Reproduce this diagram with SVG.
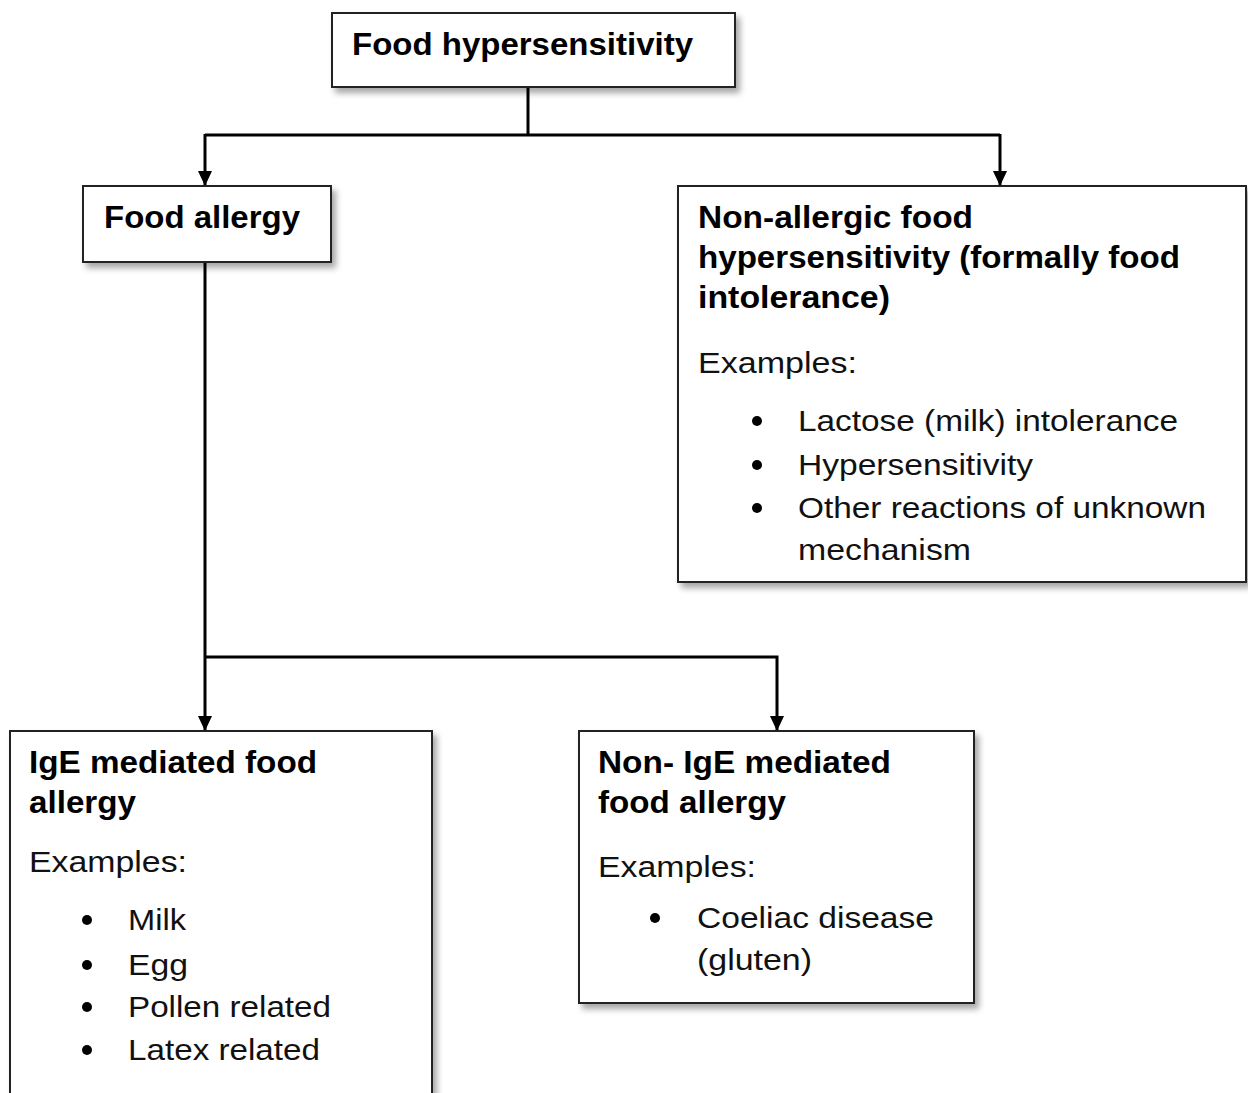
<svg xmlns="http://www.w3.org/2000/svg" width="1248" height="1093" viewBox="0 0 1248 1093">
<style>
.box{fill:#fff;stroke:#222;stroke-width:2;filter:url(#sh)}
.b{font-family:"Liberation Sans",Arial,sans-serif;font-weight:bold;font-size:31px;fill:#000}
.r{font-family:"Liberation Sans",Arial,sans-serif;font-size:30px;fill:#111}
.c{fill:none;stroke:#000;stroke-width:3}
.dot{fill:#000}
</style>
<defs>
<filter id="sh" x="-10%" y="-10%" width="130%" height="130%">
<feDropShadow dx="4" dy="5" stdDeviation="3" flood-color="#000" flood-opacity="0.35"/>
</filter>
<marker id="ar" markerWidth="15" markerHeight="14" refX="14" refY="7" orient="auto" markerUnits="userSpaceOnUse" viewBox="0 0 15 14">
<path d="M0,0 L15,7 L0,14 Z" fill="#000"/>
</marker>
</defs>
<g id="connectors">
<path class="c" d="M528,87 V135"/>
<path class="c" d="M205,135 H1000"/>
<path class="c" d="M205,134 V185" marker-end="url(#ar)"/>
<path class="c" d="M1000,134 V185" marker-end="url(#ar)"/>
<path class="c" d="M205,262 V730" marker-end="url(#ar)"/>
<path class="c" d="M204,657 H777 V730" marker-end="url(#ar)"/>
</g>
<g id="food-hypersensitivity">
<rect class="box" x="332" y="13" width="403" height="74"/>
<text class="b" x="352" y="55" textLength="341" lengthAdjust="spacingAndGlyphs">Food hypersensitivity</text>
</g>
<g id="food-allergy">
<rect class="box" x="83" y="186" width="248" height="76"/>
<text class="b" x="104" y="228" textLength="196" lengthAdjust="spacingAndGlyphs">Food allergy</text>
</g>
<g id="non-allergic">
<rect class="box" x="678" y="186" width="568" height="396"/>
<text class="b" x="698" y="228" textLength="275" lengthAdjust="spacingAndGlyphs">Non-allergic food</text>
<text class="b" x="698" y="268" textLength="482" lengthAdjust="spacingAndGlyphs">hypersensitivity (formally food</text>
<text class="b" x="698" y="308" textLength="192" lengthAdjust="spacingAndGlyphs">intolerance)</text>
<text class="r" x="698" y="373" textLength="159" lengthAdjust="spacingAndGlyphs">Examples:</text>
<circle class="dot" cx="757" cy="421" r="5"/>
<text class="r" x="798" y="431" textLength="380" lengthAdjust="spacingAndGlyphs">Lactose (milk) intolerance</text>
<circle class="dot" cx="757" cy="465" r="5"/>
<text class="r" x="798" y="475" textLength="235" lengthAdjust="spacingAndGlyphs">Hypersensitivity</text>
<circle class="dot" cx="757" cy="508" r="5"/>
<text class="r" x="798" y="518" textLength="408" lengthAdjust="spacingAndGlyphs">Other reactions of unknown</text>
<text class="r" x="798" y="560" textLength="173" lengthAdjust="spacingAndGlyphs">mechanism</text>
</g>
<g id="ige-mediated">
<rect class="box" x="10" y="731" width="422" height="400"/>
<text class="b" x="29" y="773" textLength="288" lengthAdjust="spacingAndGlyphs">IgE mediated food</text>
<text class="b" x="29" y="813" textLength="107" lengthAdjust="spacingAndGlyphs">allergy</text>
<text class="r" x="29" y="872" textLength="158" lengthAdjust="spacingAndGlyphs">Examples:</text>
<circle class="dot" cx="87" cy="920" r="5"/>
<text class="r" x="128" y="930" textLength="58" lengthAdjust="spacingAndGlyphs">Milk</text>
<circle class="dot" cx="87" cy="965" r="5"/>
<text class="r" x="128" y="975" textLength="60" lengthAdjust="spacingAndGlyphs">Egg</text>
<circle class="dot" cx="87" cy="1007" r="5"/>
<text class="r" x="128" y="1017" textLength="203" lengthAdjust="spacingAndGlyphs">Pollen related</text>
<circle class="dot" cx="87" cy="1050" r="5"/>
<text class="r" x="128" y="1060" textLength="192" lengthAdjust="spacingAndGlyphs">Latex related</text>
</g>
<g id="non-ige-mediated">
<rect class="box" x="579" y="731" width="395" height="272"/>
<text class="b" x="598" y="773" textLength="293" lengthAdjust="spacingAndGlyphs">Non- IgE mediated</text>
<text class="b" x="598" y="813" textLength="188" lengthAdjust="spacingAndGlyphs">food allergy</text>
<text class="r" x="598" y="877" textLength="158" lengthAdjust="spacingAndGlyphs">Examples:</text>
<circle class="dot" cx="655" cy="918" r="5"/>
<text class="r" x="697" y="928" textLength="237" lengthAdjust="spacingAndGlyphs">Coeliac disease</text>
<text class="r" x="697" y="970" textLength="115" lengthAdjust="spacingAndGlyphs">(gluten)</text>
</g>
</svg>
